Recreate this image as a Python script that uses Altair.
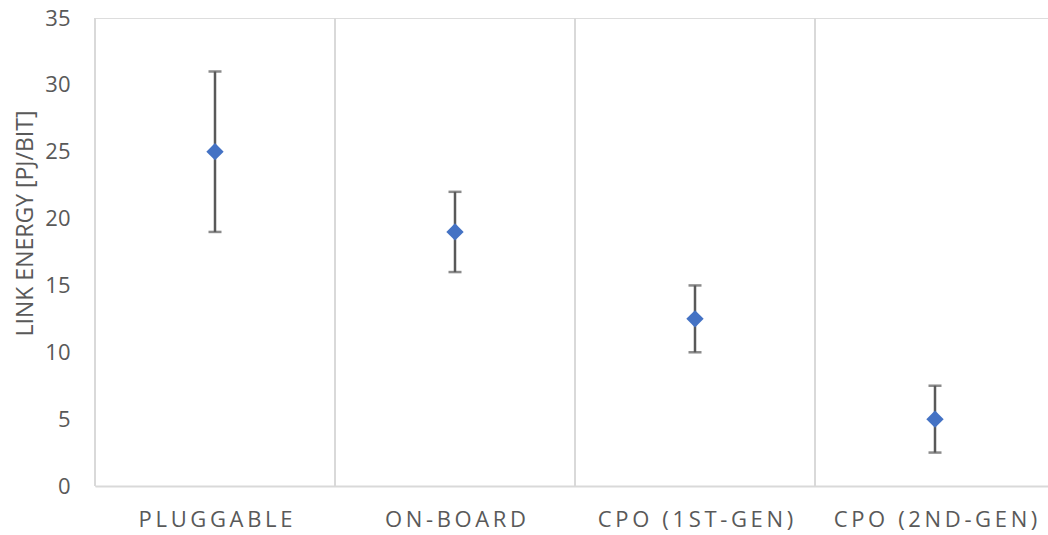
import altair as alt
import pandas as pd

categories = ["PLUGGABLE", "ON-BOARD", "CPO (1ST-GEN)", "CPO (2ND-GEN)"]
values = [25, 19, 12.5, 5]
lows = [19, 16, 10, 2.5]
highs = [31, 22, 15, 7.5]

W, H = 953, 468
BAND = 240
THIN = "\u2009"

df = pd.DataFrame({
    "cat": categories,
    "pos": [i + 0.5 for i in range(len(categories))],
    "value": values,
    "low": lows,
    "high": highs,
})
grid = pd.DataFrame({"g": list(range(len(categories)))})


def spread(s):
    return THIN.join("\u00a0" if ch == " " else ch for ch in s)


spaced = [spread(c) for c in categories]
label_expr = "[" + ",".join("'" + s + "'" for s in spaced) + "][floor(datum.value)]"

xscale = alt.Scale(domain=[0, W / BAND], nice=False, zero=False)
yscale = alt.Scale(domain=[0, 35], nice=False)

FONT = "Open Sans"
GREY = "#595959"

xaxis = alt.Axis(
    values=[0.5, 1.5, 2.5, 3.5], labelExpr=label_expr, title=None,
    grid=False, ticks=False, domain=True, domainColor="#d9d9d9", domainWidth=2,
    labelFont=FONT, labelFontSize=22, labelColor=GREY, labelPadding=23,
    labelLimit=0, labelOverlap=False, labelBound=False, labelFlush=False,
)
yaxis = alt.Axis(
    values=[0, 5, 10, 15, 20, 25, 30, 35], grid=False, ticks=False, domain=False,
    labelFont=FONT, labelFontSize=22, labelColor=GREY, labelPadding=25,
    title="LINK ENERGY [PJ/BIT]", titleFont=FONT, titleFontSize=23,
    titleFontWeight="normal", titleColor=GREY, titleX=-70, titleY=205,
    titleAngle=-90, titleAlign="center", titleBaseline="middle", titleLimit=0,
)

grid_layer = alt.Chart(grid).mark_rule(color="#d9d9d9", strokeWidth=2).encode(
    x=alt.X("g:Q", scale=xscale, axis=xaxis),
    y=alt.value(0),
    y2=alt.value(H),
)

err = alt.Chart(df).mark_rule(color=GREY, strokeWidth=2.5).encode(
    x=alt.X("pos:Q", scale=xscale, axis=xaxis),
    y=alt.Y("low:Q", scale=yscale, axis=yaxis),
    y2="high:Q",
)
cap_lo = alt.Chart(df).mark_tick(color=GREY, thickness=2.5, size=13, orient="horizontal").encode(
    x=alt.X("pos:Q", scale=xscale, axis=xaxis),
    y=alt.Y("low:Q", scale=yscale, axis=yaxis),
)
cap_hi = alt.Chart(df).mark_tick(color=GREY, thickness=2.5, size=13, orient="horizontal").encode(
    x=alt.X("pos:Q", scale=xscale, axis=xaxis),
    y=alt.Y("high:Q", scale=yscale, axis=yaxis),
)
pts = alt.Chart(df).mark_point(shape="diamond", filled=True, color="#4472C4", size=300, opacity=1).encode(
    x=alt.X("pos:Q", scale=xscale, axis=xaxis),
    y=alt.Y("value:Q", scale=yscale, axis=yaxis),
)

chart = alt.layer(grid_layer, err, cap_lo, cap_hi, pts).properties(
    width=W, height=H,
    autosize=alt.AutoSizeParams(type="none"),
    padding={"left": 95, "top": 18, "right": 0, "bottom": 49},
).configure_view(stroke=None).configure(background="white")

chart.save("out.html", embed_options={"renderer": "svg", "actions": False})
